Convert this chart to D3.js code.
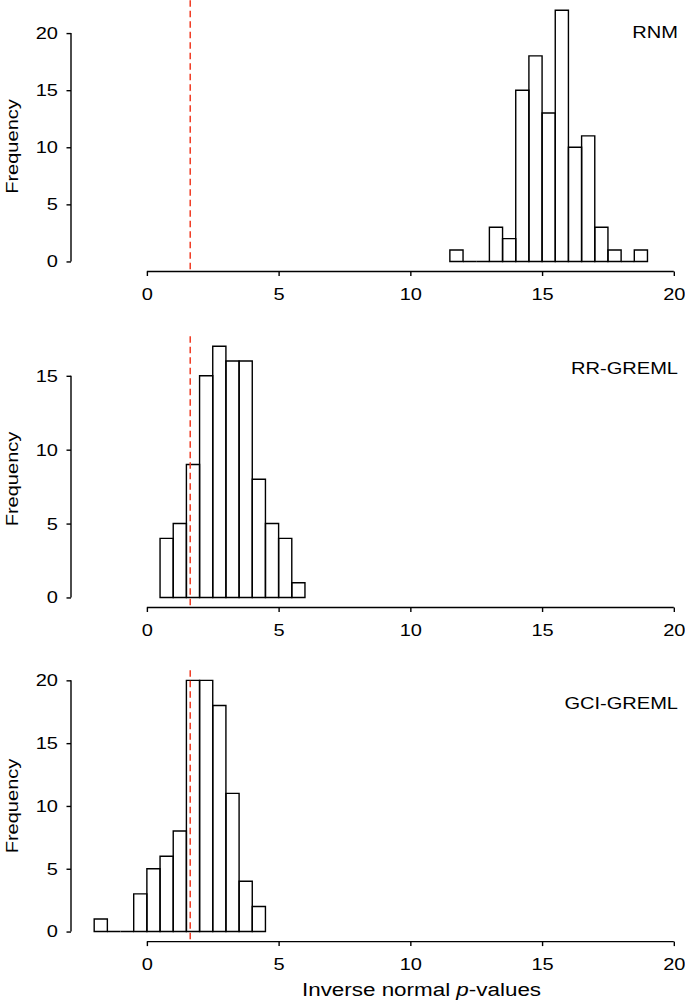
<!DOCTYPE html>
<html><head><meta charset="utf-8">
<script src="https://cdn.jsdelivr.net/npm/d3@7"></script>
<style>
html,body{margin:0;padding:0;background:#fff;}
svg{display:block;}
text{font-family:"Liberation Sans",Arial,Helvetica,sans-serif;fill:#000;}
</style>
</head><body>
<svg id="chart" width="685" height="1005"></svg>
<script>
// ---- data ----
const panelNames = ["RNM", "RR-GREML", "GCI-GREML"];
const binWidth = 0.5;
const rnmStart = 11.5;
const rnmCounts = [1, 0, 0, 3, 2, 15, 18, 13, 22, 10, 11, 3, 1, 0, 1];
const rrStart = 0.5;
const rrCounts = [4, 5, 9, 15, 17, 16, 16, 8, 5, 4, 1];
const gciStart = -2;
const gciCounts = [1, 0, 0, 3, 5, 6, 8, 20, 20, 18, 11, 4, 2];
const xTicks = [0, 5, 10, 15, 20];
const yTicksRnm = [0, 5, 10, 15, 20];
const yTicksRr = [0, 5, 10, 15];
const yTicksGci = [0, 5, 10, 15, 20];
const threshold = 1.645;
const xLabel = "Inverse normal ";
const xLabelItalic = "p";
const xLabelEnd = "-values";
const yLabel = "Frequency";

// ---- layout ----
const SX = 1.18;            // horizontal stretch of glyphs in the reference
const FS = 17;
const plotH = 271.3;
const panels = [
  {name: panelNames[0], start: rnmStart, counts: rnmCounts, yTicks: yTicksRnm, top: 0.2, labCy: 146.5},
  {name: panelNames[1], start: rrStart, counts: rrCounts, yTicks: yTicksRr, top: 336.2, labCy: 479},
  {name: panelNames[2], start: gciStart, counts: gciCounts, yTicks: yTicksGci, top: 670.3, labCy: 806}
];
const xMin = -2, xMax = 20;
const xPad = (xMax - xMin) * 0.04;
const x = d3.scaleLinear().domain([xMin - xPad, xMax + xPad]).range([71, 697]);

const svg = d3.select("#chart");

function stretchText(sel) {
  sel.each(function() {
    const t = d3.select(this);
    const tx = +t.attr("x") || 0, ty = +t.attr("y") || 0;
    t.attr("x", 0).attr("y", 0)
     .attr("transform", `translate(${tx},${ty}) scale(${SX},1)`);
  });
}

panels.forEach(p => {
  const ymax = d3.max(p.counts);
  const bottom = p.top + plotH;
  const y = d3.scaleLinear().domain([-0.04 * ymax, 1.04 * ymax]).range([bottom, p.top]);
  const g = svg.append("g");

  const bins = p.counts.map((c, i) => ({x0: p.start + i * binWidth, x1: p.start + (i + 1) * binWidth, c}));
  g.selectAll("path.bar").data(bins).join("path")
    .attr("class", "bar")
    .attr("d", d => {
      const pth = d3.path();
      pth.moveTo(x(d.x0), y(0));
      pth.lineTo(x(d.x0), y(d.c));
      pth.lineTo(x(d.x1), y(d.c));
      pth.lineTo(x(d.x1), y(0));
      pth.closePath();
      return pth.toString();
    })
    .attr("fill", "none")
    .attr("stroke", "#000")
    .attr("stroke-width", 1.4)
    .attr("stroke-linejoin", "miter");

  // threshold line
  g.append("line")
    .attr("x1", x(threshold)).attr("x2", x(threshold))
    .attr("y1", p.top).attr("y2", bottom)
    .attr("stroke", "#f03a22").attr("stroke-width", 1.5)
    .attr("stroke-dasharray", "6.5,4");

  // y axis
  const ya = g.append("g").attr("transform", `translate(${x.range()[0]},0)`)
    .call(d3.axisLeft(y).tickValues(p.yTicks).tickSize(4.5).tickPadding(8.5).tickFormat(d3.format("d")));
  ya.select(".domain").remove();
  ya.append("line").attr("x1", 0).attr("x2", 0)
    .attr("y1", y(p.yTicks[0])).attr("y2", y(p.yTicks[p.yTicks.length - 1]))
    .attr("stroke", "#000").attr("stroke-width", 1.4);
  ya.selectAll(".tick line").attr("stroke", "#000").attr("stroke-width", 1.4);
  ya.selectAll(".tick text").attr("font-size", FS).attr("fill", "#000").call(stretchText);
  ya.attr("font-family", null).attr("font-size", null);

  // x axis
  const xa = g.append("g").attr("transform", `translate(0,${bottom})`)
    .call(d3.axisBottom(x).tickValues(xTicks).tickSize(4.5).tickPadding(12).tickFormat(d3.format("d")));
  xa.select(".domain").remove();
  xa.append("line").attr("y1", 0).attr("y2", 0)
    .attr("x1", x(xTicks[0])).attr("x2", x(xTicks[xTicks.length - 1]))
    .attr("stroke", "#000").attr("stroke-width", 1.4);
  xa.selectAll(".tick line").attr("stroke", "#000").attr("stroke-width", 1.4);
  xa.selectAll(".tick text").attr("font-size", FS).attr("fill", "#000").call(stretchText);
  xa.attr("font-family", null).attr("font-size", null);

  // panel name
  g.append("text")
    .attr("transform", `translate(678,${p.top + 38.2}) scale(${SX},1)`)
    .attr("text-anchor", "end").attr("font-size", FS)
    .text(p.name);

  // y label
  g.append("text")
    .attr("transform", `translate(17.5,${p.labCy}) rotate(-90) scale(${SX},1)`)
    .attr("text-anchor", "middle").attr("font-size", FS)
    .text(yLabel);
});

// x label
const xl = svg.append("text")
  .attr("transform", `translate(421.5,996) scale(${SX},1)`)
  .attr("text-anchor", "middle").attr("font-size", 19);
xl.append("tspan").text(xLabel);
xl.append("tspan").attr("font-style", "italic").text(xLabelItalic);
xl.append("tspan").text(xLabelEnd);
</script>
</body></html>
